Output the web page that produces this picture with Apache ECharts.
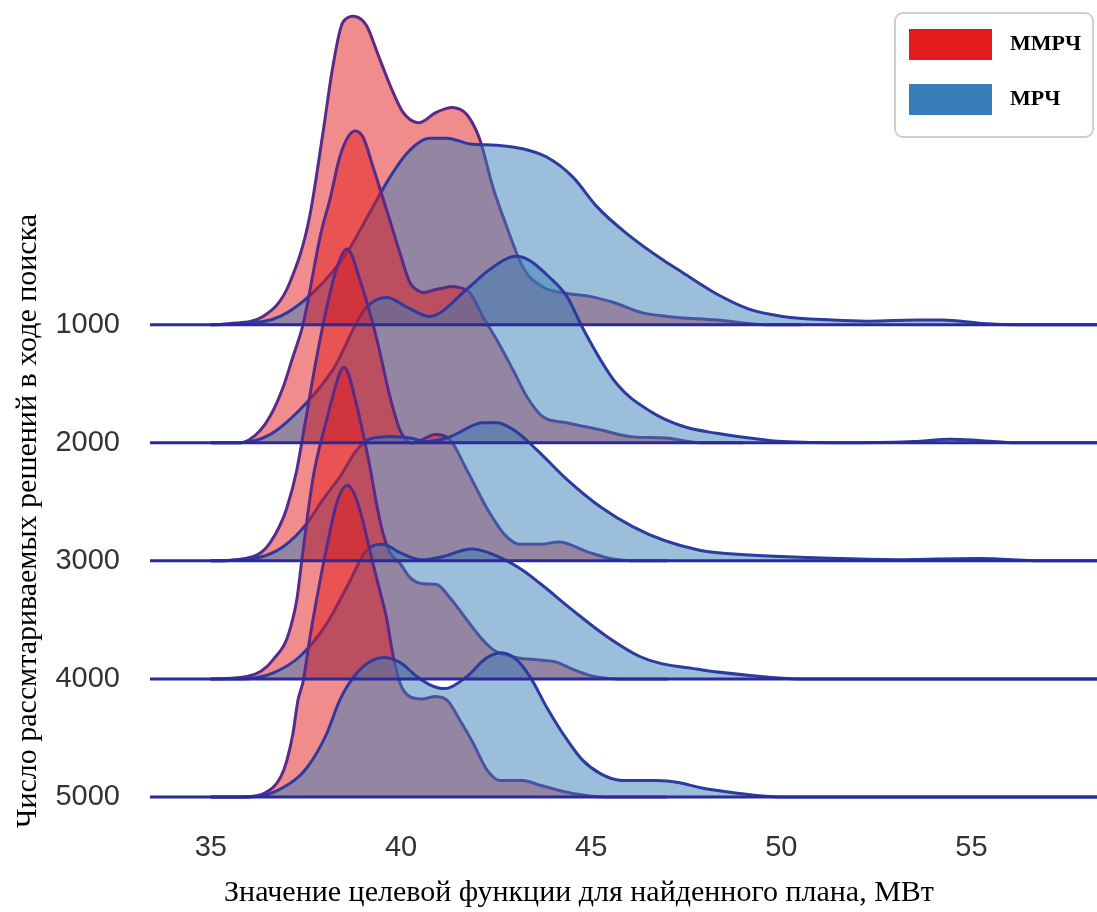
<!DOCTYPE html>
<html>
<head>
<meta charset="utf-8">
<script src="https://cdn.jsdelivr.net/npm/echarts@6/dist/echarts.min.js"></script>
<style>
html,body{margin:0;padding:0;background:#fff;}
#chart{width:1097px;height:912px;}
</style>
</head>
<body>
<div id="chart"></div>
<script>
// ---------- data ----------
const rowLabels = ['1000', '2000', '3000', '4000', '5000'];
const xTicks = [35, 40, 45, 50, 55];
const xRange = [33.4, 58.3];
const legendNames = ['ММРЧ', 'МРЧ'];

// [value MW, density] pairs
const red1000 = [[35.0,0],[35.5,0.01],[36.37,0.07],[37.08,0.36],[37.6,0.92],[37.95,1.63],[38.21,2.19],[38.47,2.56],[38.79,2.61],[39.1,2.53],[39.37,2.31],[39.71,2.03],[40.05,1.8],[40.44,1.71],[40.94,1.8],[41.36,1.84],[41.73,1.78],[42.07,1.57],[42.41,1.17],[42.78,0.83],[43.2,0.49],[43.73,0.32],[44.25,0.27],[44.96,0.24],[45.57,0.19],[46.36,0.1],[46.99,0.07],[48.3,0.04],[49.62,0],[50.5,0]];
const blue1000 = [[35.0,0],[35.77,0.01],[36.82,0.07],[37.68,0.27],[38.58,0.61],[39.18,0.95],[39.71,1.25],[40.15,1.45],[40.76,1.58],[41.21,1.58],[41.81,1.53],[42.52,1.52],[43.2,1.49],[43.83,1.42],[44.52,1.25],[45.15,1.0],[46.02,0.75],[46.88,0.55],[47.41,0.44],[48.3,0.26],[49.17,0.13],[50.04,0.07],[51.35,0.04],[52.24,0.03],[53.56,0.04],[54.24,0.04],[55.29,0.01],[56.19,0],[58.3,0]];
const red2000 = [[35.0,0],[35.77,0],[36.03,0.03],[36.55,0.22],[36.9,0.47],[37.16,0.73],[37.39,0.96],[37.92,1.81],[38.13,2.06],[38.39,2.42],[38.79,2.64],[39.0,2.59],[39.26,2.34],[39.71,1.88],[39.97,1.61],[40.23,1.36],[40.5,1.28],[40.94,1.3],[41.47,1.32],[41.81,1.27],[42.15,1.07],[42.52,0.87],[42.94,0.62],[43.31,0.39],[43.73,0.22],[44.36,0.17],[45.23,0.11],[46.09,0.05],[46.99,0.04],[47.85,0],[49,0]];
const blue2000 = [[35.0,0],[35.77,0],[36.5,0.06],[37.34,0.28],[38.21,0.62],[39.1,1.15],[39.63,1.23],[40.15,1.15],[40.76,1.07],[41.73,1.3],[42.34,1.47],[43.05,1.58],[43.91,1.4],[44.36,1.24],[44.78,0.97],[45.67,0.5],[46.54,0.27],[47.41,0.14],[48.3,0.08],[49.17,0.04],[50.04,0.01],[51.8,0],[53.5,0.01],[54.43,0.03],[55.2,0.02],[56.19,0],[58.3,0]];
const red3000 = [[35.0,0],[35.9,0.02],[36.55,0.15],[37.0,0.45],[37.26,0.77],[37.47,1.15],[37.74,1.65],[38.05,2.15],[38.31,2.48],[38.6,2.64],[38.92,2.38],[39.18,2.1],[39.37,1.87],[39.71,1.39],[39.97,1.11],[40.23,1.0],[40.5,1.02],[40.89,1.07],[41.28,1.03],[41.73,0.77],[42.34,0.4],[42.73,0.22],[43.12,0.14],[43.65,0.14],[44.18,0.16],[44.96,0.07],[45.49,0.02],[46.3,0],[47,0]];
const blue3000 = [[35.0,0],[35.77,0.01],[36.29,0.03],[36.9,0.12],[37.53,0.32],[37.95,0.52],[38.39,0.71],[38.84,0.94],[39.1,1.02],[39.52,1.05],[40.23,1.04],[40.68,1.01],[41.28,1.05],[42.15,1.17],[42.52,1.17],[43.05,1.09],[43.57,0.94],[44.36,0.69],[45.23,0.46],[46.09,0.29],[47.85,0.09],[49.17,0.05],[50.48,0.03],[51.5,0.02],[53.11,0.01],[55.21,0.02],[57.05,0],[58.3,0]];
const red4000 = [[35.0,0],[35.95,0.02],[36.63,0.16],[37.08,0.42],[37.26,0.67],[37.39,1.0],[37.68,1.69],[38.05,2.2],[38.21,2.4],[38.5,2.64],[38.84,2.31],[39.0,2.08],[39.18,1.8],[39.37,1.46],[39.52,1.24],[39.71,1.07],[39.97,0.98],[40.23,0.86],[40.5,0.81],[40.94,0.8],[41.28,0.69],[41.73,0.5],[42.07,0.36],[42.41,0.25],[43.05,0.18],[43.65,0.16],[44.1,0.14],[44.52,0.08],[44.96,0.03],[45.75,0],[47,0]];
const blue4000 = [[35.0,0],[35.77,0],[36.63,0.05],[37.34,0.19],[38.05,0.47],[38.58,0.78],[39.1,1.09],[39.52,1.14],[39.97,1.07],[40.5,1.01],[41.02,1.03],[41.89,1.1],[42.6,1.03],[43.2,0.92],[43.65,0.81],[44.52,0.58],[45.41,0.36],[46.28,0.19],[47.85,0.08],[49.17,0.03],[50.5,0],[58.3,0]];
const red5000 = [[35.0,0],[35.77,0],[36.63,0.08],[37.0,0.31],[37.16,0.54],[37.29,0.82],[37.42,0.97],[37.61,1.36],[37.79,1.69],[38.05,2.12],[38.31,2.49],[38.6,2.64],[38.92,2.43],[39.1,2.2],[39.26,1.98],[39.44,1.75],[39.63,1.5],[39.76,1.25],[39.97,0.97],[40.23,0.85],[40.55,0.83],[40.94,0.85],[41.21,0.82],[41.55,0.65],[41.89,0.46],[42.26,0.23],[42.6,0.14],[43.2,0.14],[43.65,0.1],[44.52,0.03],[45.41,0],[47,0]];
const blue5000 = [[35.0,0],[36.03,0],[36.9,0.08],[37.53,0.25],[38.05,0.54],[38.39,0.82],[38.84,1.05],[39.26,1.16],[39.63,1.18],[39.97,1.14],[40.42,1.02],[40.76,0.95],[41.21,0.92],[41.73,1.02],[42.26,1.18],[42.68,1.22],[43.05,1.16],[43.39,1.02],[43.83,0.76],[44.25,0.54],[44.78,0.31],[45.23,0.2],[45.83,0.14],[46.72,0.14],[47.33,0.12],[47.85,0.08],[48.9,0.03],[49.96,0],[58.3,0]];

const redRows = [red1000, red2000, red3000, red4000, red5000];
const blueRows = [blue1000, blue2000, blue3000, blue4000, blue5000];

// ---------- styles ----------
const RED = '#e41a1c', BLUE = '#377eb8';
const RED_FILL = 'rgba(228,26,28,0.5)', BLUE_FILL = 'rgba(55,126,184,0.5)';
const RED_LINE = '#5a2a88', BLUE_LINE = '#2d3a9e', BASE_LINE = '#2a2a9a';

// smooth cubic through pixel points -> bezier path segments
// (3-point tangents, limited on monotone stretches, flat next to flat segments)
function splineSegments(P) {
  const n = P.length;
  const h = [], d = [];
  for (let i = 0; i < n - 1; i++) {
    h.push(P[i + 1][0] - P[i][0]);
    d.push((P[i + 1][1] - P[i][1]) / (P[i + 1][0] - P[i][0]));
  }
  const m = new Array(n);
  m[0] = 0; m[n - 1] = 0;
  for (let i = 1; i < n - 1; i++) {
    const a = d[i - 1], b = d[i];
    const p = (a * h[i] + b * h[i - 1]) / (h[i - 1] + h[i]);
    if (Math.abs(a) < 1e-9 || Math.abs(b) < 1e-9) m[i] = 0;
    else if (a * b < 0) m[i] = p;
    else m[i] = Math.sign(p) * Math.min(Math.abs(p), 3 * Math.min(Math.abs(a), Math.abs(b)));
  }
  let out = '';
  for (let i = 0; i < n - 1; i++) {
    const t = h[i] / 3;
    out += ' C' + (P[i][0] + t) + ',' + (P[i][1] + m[i] * t) + ' ' +
      (P[i + 1][0] - t) + ',' + (P[i + 1][1] - m[i + 1] * t) + ' ' +
      P[i + 1][0] + ',' + P[i + 1][1];
  }
  return out;
}

function curve(name, pts, off, fill, stroke, color) {
  const data = pts.map(p => [p[0], off + p[1]]);
  return {
    type: 'custom', name: name,
    data: data,
    encode: { x: 0, y: 1 },
    itemStyle: { color: color },
    silent: true,
    renderItem: function (params, api) {
      if (params.dataIndex !== 0) return null;
      const P = data.map(p => api.coord(p));
      const segs = splineSegments(P);
      const start = 'M' + P[0][0] + ',' + P[0][1];
      return {
        type: 'group',
        children: [
          { type: 'path', shape: { pathData: start + segs + ' Z' }, style: { fill: fill, stroke: null } },
          { type: 'path', shape: { pathData: start + segs }, style: { fill: 'none', stroke: stroke, lineWidth: 3 } }
        ]
      };
    }
  };
}

const series = [];
rowLabels.forEach((lab, k) => {
  const off = rowLabels.length - 1 - k;
  series.push({
    type: 'line', name: 'base' + lab,
    data: [[xRange[0], off], [xRange[1], off]],
    showSymbol: false, symbol: 'none', clip: false,
    lineStyle: { color: BASE_LINE, width: 3 },
    emphasis: { disabled: true }, silent: true
  });
  series.push(curve(legendNames[0], redRows[k], off, RED_FILL, RED_LINE, RED));
  series.push(curve(legendNames[1], blueRows[k], off, BLUE_FILL, BLUE_LINE, BLUE));
});

const chart = echarts.init(document.getElementById('chart'), null, { renderer: 'canvas' });
chart.setOption({
  animation: false,
  backgroundColor: '#ffffff',
  grid: { left: 150, right: 0, top: 0, bottom: 115 },
  xAxis: {
    type: 'value', min: xRange[0], max: xRange[1],
    axisLine: { show: false }, axisTick: { show: false }, splitLine: { show: false },
    axisLabel: {
      customValues: xTicks,
      margin: 36, fontSize: 29, color: '#333', fontFamily: 'Liberation Sans',
      formatter: v => (xTicks.indexOf(v) >= 0 ? String(v) : '')
    }
  },
  yAxis: {
    type: 'value', min: 0, max: 6.75, interval: 1,
    axisLine: { show: false }, axisTick: { show: false }, splitLine: { show: false },
    axisLabel: {
      customValues: [0, 1, 2, 3, 4],
      margin: 30, fontSize: 29, color: '#333', fontFamily: 'Liberation Sans',
      formatter: v => {
        const i = rowLabels.length - 1 - Math.round(v);
        return (Math.abs(v - Math.round(v)) < 1e-6 && i >= 0 && i < rowLabels.length) ? rowLabels[i] : '';
      }
    }
  },
  legend: {
    orient: 'vertical', left: 895, top: 13,
    padding: [16, 12, 22, 14],
    itemWidth: 83, itemHeight: 31, itemGap: 24,
    icon: 'rect', selectedMode: false,
    borderColor: '#cfcfcf', borderWidth: 2, borderRadius: 8, backgroundColor: '#fff',
    textStyle: { fontFamily: 'Liberation Serif', fontWeight: 'bold', fontSize: 22, color: '#000', padding: [0, 0, 0, 13] },
    data: [
      { name: legendNames[0], itemStyle: { color: RED, opacity: 1, borderWidth: 0 } },
      { name: legendNames[1], itemStyle: { color: BLUE, opacity: 1, borderWidth: 0 } }
    ]
  },
  graphic: [
    { type: 'text', x: 579, y: 893, silent: true,
      style: { text: 'Значение целевой функции для найденного плана, МВт', font: '30px "Liberation Serif"', fill: '#000', align: 'center', verticalAlign: 'middle' } },
    { type: 'text', x: 28, y: 521, rotation: Math.PI / 2, silent: true,
      style: { text: 'Число рассмтариваемых решений в ходе поиска', font: '30px "Liberation Serif"', fill: '#000', align: 'center', verticalAlign: 'middle' } }
  ],
  series: series
});
</script>
</body>
</html>
